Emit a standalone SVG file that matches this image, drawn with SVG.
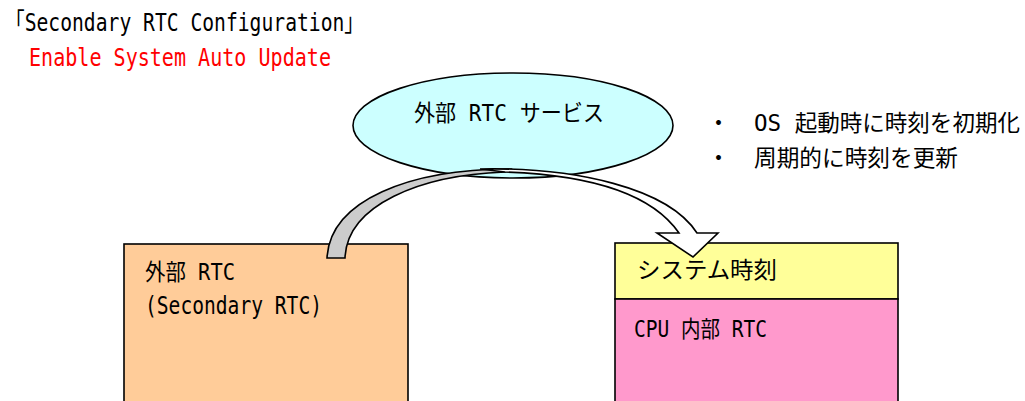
<svg xmlns="http://www.w3.org/2000/svg" width="1025" height="401" viewBox="0 0 1025 401">
<style>
.t{font-family:"DejaVu Sans Mono","Noto Sans CJK JP",monospace;fill:#000;}
.box{stroke:#000;stroke-width:1.6;}
.arr{stroke:#000;stroke-width:1.6;stroke-linejoin:miter;}
</style>
<rect width="1025" height="401" fill="#fff"/>
<g id="title">
<text class="t" x="5" y="31" font-size="25" textLength="359" lengthAdjust="spacingAndGlyphs">「Secondary RTC Configuration」</text>
<text class="t" x="29" y="66" font-size="25" style="fill:#FF0000" textLength="302" lengthAdjust="spacingAndGlyphs">Enable System Auto Update</text>
</g>
<g id="service">
<ellipse cx="513" cy="125.5" rx="160" ry="52.5" fill="#CCFFFF" class="box"/>
<text class="t" x="414" y="121" font-size="23" textLength="190" lengthAdjust="spacingAndGlyphs">外部 RTC サービス</text>
</g>
<g id="notes">
<text class="t" x="707" y="131" font-size="23">・</text>
<text class="t" x="754" y="131" font-size="23" textLength="266" lengthAdjust="spacingAndGlyphs">OS 起動時に時刻を初期化</text>
<text class="t" x="707" y="166" font-size="23">・</text>
<text class="t" x="754" y="166" font-size="23" textLength="204" lengthAdjust="spacingAndGlyphs">周期的に時刻を更新</text>
</g>
<g id="external-rtc">
<rect x="124" y="244" width="284" height="180" fill="#FFCC99" class="box"/>
<text class="t" x="145" y="280" font-size="23" textLength="90" lengthAdjust="spacingAndGlyphs">外部 RTC</text>
<text class="t" x="145" y="314" font-size="24" textLength="177" lengthAdjust="spacingAndGlyphs">(Secondary RTC)</text>
</g>
<g id="system-time">
<rect x="615" y="243" width="283" height="56" fill="#FFFF99" class="box"/>
<text class="t" x="637" y="278" font-size="23" textLength="140" lengthAdjust="spacingAndGlyphs">システム時刻</text>
</g>
<g id="cpu-rtc">
<rect x="615" y="299" width="283" height="125" fill="#FF99CC" class="box"/>
<text class="t" x="634" y="337" font-size="23" textLength="133" lengthAdjust="spacingAndGlyphs">CPU 内部 RTC</text>
</g>
<g id="connectors">
<path class="arr" fill="#CCCCCC" d="M327,258 C330,200 410,169 510,169 L505,172 C420,175 347,205 345,258 Z"/>
<path class="arr" fill="#FFFFFF" d="M480,169 C575,167 668,188 697,233 L718,233 L693,257 L657,233 L679,233 C652,194 592,175 505,172 Z"/>
</g>
</svg>
